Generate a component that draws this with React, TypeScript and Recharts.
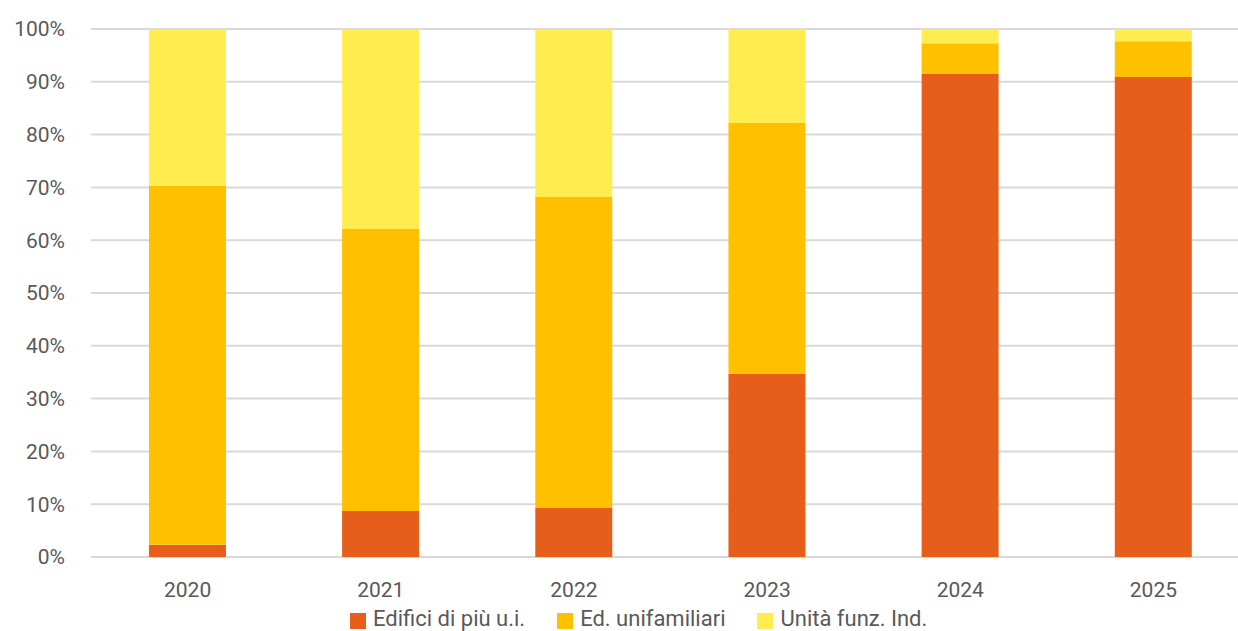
import { Bar, BarChart, CartesianGrid, Legend, XAxis, YAxis } from "recharts";

const years = ["2020", "2021", "2022", "2023", "2024", "2025"];
const edificiPiuUi = [2.3, 8.7, 9.3, 34.7, 91.5, 90.9];
const edUnifamiliari = [68.0, 53.4, 58.9, 47.5, 5.8, 6.8];
const unitaFunzInd = [29.7, 37.9, 31.8, 17.8, 2.7, 2.3];
const yTicks = [0, 10, 20, 30, 40, 50, 60, 70, 80, 90, 100];

const seriesInfo = [
  { key: "edifici", name: "Edifici di più u.i.", color: "#E65E19" },
  { key: "unifamiliari", name: "Ed. unifamiliari", color: "#FFC000" },
  { key: "unita", name: "Unità funz. Ind.", color: "#FFED4F" },
];

const data = years.map((year, i) => ({
  year,
  edifici: edificiPiuUi[i],
  unifamiliari: edUnifamiliari[i],
  unita: unitaFunzInd[i],
}));

const font = "Roboto, sans-serif";
const textColor = "#595959";

function LegendContent() {
  return (
    <div
      style={{
        display: "flex",
        gap: "32px",
        fontFamily: font,
        fontSize: "22px",
        color: textColor,
        paddingLeft: "350px",
        paddingTop: "6px",
        lineHeight: "24px",
      }}
    >
      {seriesInfo.map((s) => (
        <div key={s.key} style={{ display: "flex", alignItems: "center" }}>
          <span
            style={{
              display: "inline-block",
              width: "16px",
              height: "16px",
              background: s.color,
              marginRight: "7px",
              marginTop: "3px",
            }}
          />
          {s.name}
        </div>
      ))}
    </div>
  );
}

export default function App() {
  return (
    <>
      <style>{`body { margin: 0; }`}</style>
      <div style={{ width: 1238, height: 631, overflow: "hidden" }}>
        <BarChart
          width={1250}
          height={631}
          data={data}
          margin={{ top: 29, right: 0, left: 1, bottom: 0 }}
          barCategoryGap="30%"
        >
          <CartesianGrid stroke="#D9D9D9" strokeWidth={2} vertical={false} />
          <XAxis
            dataKey="year"
            axisLine={false}
            tickLine={false}
            tickMargin={19}
            height={44}
            tick={{ fontSize: 21, fill: textColor, fontFamily: font }}
          />
          <YAxis
            domain={[0, 100]}
            ticks={yTicks}
            width={90}
            axisLine={false}
            tickLine={false}
            tickMargin={20}
            tickFormatter={(v) => `${v}%`}
            tick={{ fontSize: 21, fill: textColor, fontFamily: font }}
          />
          <Legend
            verticalAlign="bottom"
            align="left"
            height={30}
            wrapperStyle={{ left: 0, width: 1250 }}
            content={<LegendContent />}
          />
          {seriesInfo.map((s) => (
            <Bar
              key={s.key}
              dataKey={s.key}
              name={s.name}
              stackId="a"
              fill={s.color}
              isAnimationActive={false}
            />
          ))}
        </BarChart>
      </div>
    </>
  );
}
